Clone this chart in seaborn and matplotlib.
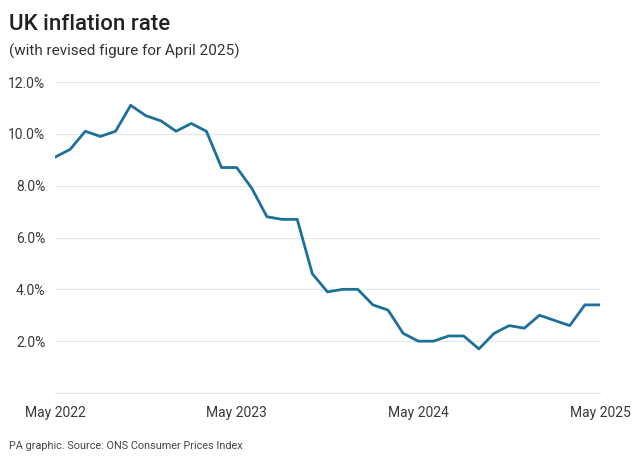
import matplotlib
matplotlib.use("Agg")
import matplotlib.pyplot as plt
import seaborn as sns
import pandas as pd

months = ["May 2022", "Jun 2022", "Jul 2022", "Aug 2022", "Sep 2022", "Oct 2022", "Nov 2022",
          "Dec 2022", "Jan 2023", "Feb 2023", "Mar 2023", "Apr 2023", "May 2023", "Jun 2023",
          "Jul 2023", "Aug 2023", "Sep 2023", "Oct 2023", "Nov 2023", "Dec 2023", "Jan 2024",
          "Feb 2024", "Mar 2024", "Apr 2024", "May 2024", "Jun 2024", "Jul 2024", "Aug 2024",
          "Sep 2024", "Oct 2024", "Nov 2024", "Dec 2024", "Jan 2025", "Feb 2025", "Mar 2025",
          "Apr 2025", "May 2025"]
rates = [9.1, 9.4, 10.1, 9.9, 10.1, 11.1, 10.7, 10.5, 10.1, 10.4, 10.1, 8.7, 8.7, 7.9,
         6.8, 6.7, 6.7, 4.6, 3.9, 4.0, 4.0, 3.4, 3.2, 2.3, 2.0, 2.0, 2.2, 2.2,
         1.7, 2.3, 2.6, 2.5, 3.0, 2.8, 2.6, 3.4, 3.4]
x_tick_labels = ["May 2022", "May 2023", "May 2024", "May 2025"]
y_ticks = [2, 4, 6, 8, 10, 12]

df = pd.DataFrame({"idx": range(len(months)), "month": months, "rate": rates})

sns.set_theme(style="white")
plt.rcParams["font.family"] = ["Roboto", "DejaVu Sans"]

fig = plt.figure(figsize=(6.4, 4.63), dpi=100)
ax = fig.add_axes([55/640, 70/463, 545/640, 311/463])

sns.lineplot(data=df, x="idx", y="rate", ax=ax, color="#1c7099", linewidth=2.0)

ax.set_xlim(0, len(months) - 1)
ax.set_ylim(0, 12)
ax.set_yticks(y_ticks)
ax.set_yticklabels([f"{v:.1f}%" for v in y_ticks])
ax.set_xticks([months.index(m) for m in x_tick_labels])
ax.set_xticklabels(x_tick_labels)
ax.grid(axis="y", color="#e6e6e6", linewidth=0.8)
ax.grid(axis="x", visible=False)
for s in ["top", "right", "left"]:
    ax.spines[s].set_visible(False)
ax.spines["bottom"].set_color("#e6e6e6")
ax.spines["bottom"].set_linewidth(0.8)
ax.tick_params(axis="both", length=0, labelsize=10, colors="#3a3a3a")
ax.tick_params(axis="y", pad=7)
ax.tick_params(axis="x", pad=9)
ax.set_xlabel("")
ax.set_ylabel("")

fig.text(9/640, 1 - 25/463, "UK inflation rate", fontsize=16, fontweight="medium",
         color="#222222", va="center", ha="left")
fig.text(9/640, 1 - 51/463, "(with revised figure for April 2025)", fontsize=11,
         color="#333333", va="center", ha="left")
fig.text(9/640, 1 - 446/463, "PA graphic. Source: ONS Consumer Prices Index", fontsize=7.8,
         color="#444444", va="center", ha="left")

fig.savefig("out.png", dpi=100)
